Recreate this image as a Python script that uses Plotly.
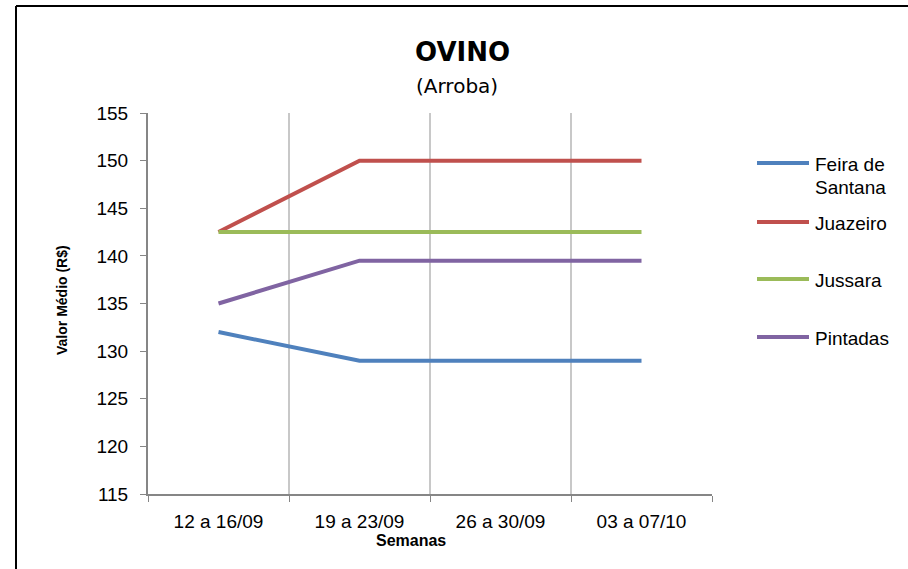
import plotly.graph_objects as go

categories = ["12 a 16/09", "19 a 23/09", "26 a 30/09", "03 a 07/10"]
feira = [132, 129, 129, 129]
juazeiro = [142.5, 150, 150, 150]
jussara = [142.5, 142.5, 142.5, 142.5]
pintadas = [135, 139.5, 139.5, 139.5]
series_names = ["Feira de<br>Santana", "Juazeiro", "Jussara", "Pintadas"]
y_ticks = [115, 120, 125, 130, 135, 140, 145, 150, 155]

colors = ["#4F81BD", "#C0504D", "#9BBB59", "#8064A2"]
W, H = 908, 569
L, R, T, B = 148, 712, 113, 494


def px(x):
    return (x - L) / (R - L)


def py(y):
    return (B - y) / (B - T)


fig = go.Figure()
for vals, name, c in zip([feira, juazeiro, jussara, pintadas], series_names, colors):
    fig.add_trace(go.Scatter(x=categories, y=vals, mode="lines", name=name,
                             line=dict(color=c, width=4), showlegend=False))

font = "Liberation Sans, Arial, sans-serif"
shapes = [
    dict(type="line", xref="paper", yref="paper", x0=px(16), x1=px(908), y0=py(6), y1=py(6),
         line=dict(color="black", width=2)),
    dict(type="line", xref="paper", yref="paper", x0=px(16), x1=px(16), y0=py(6), y1=py(569),
         line=dict(color="black", width=2)),
]
annotations = [
    dict(text="<b>OVINO</b>", x=px(463), y=py(52), xref="paper", yref="paper", showarrow=False,
         font=dict(family="DejaVu Sans", size=26, color="black"), xanchor="center", yanchor="middle"),
    dict(text="(Arroba)", x=px(457), y=py(86), xref="paper", yref="paper", showarrow=False,
         font=dict(family="DejaVu Sans", size=20, color="black"), xanchor="center", yanchor="middle"),
    dict(text="<b>Valor Médio (R$)</b>", x=px(62), y=py(300), xref="paper", yref="paper", showarrow=False,
         textangle=-90, font=dict(family=font, size=14, color="black"), xanchor="center", yanchor="middle"),
    dict(text="<b>Semanas</b>", x=px(411), y=py(540), xref="paper", yref="paper", showarrow=False,
         font=dict(family=font, size=16, color="black"), xanchor="center", yanchor="middle"),
]

legend_y = [163, 222, 279, 337]
legend_text = [["Feira de", "Santana"], ["Juazeiro"], ["Jussara"], ["Pintadas"]]
for ly, txt, c in zip(legend_y, legend_text, colors):
    shapes.append(dict(type="line", xref="paper", yref="paper", x0=px(757), x1=px(809),
                       y0=py(ly), y1=py(ly), line=dict(color=c, width=4)))
    for i, t in enumerate(txt):
        annotations.append(dict(text=t, x=px(813), y=py(ly + 1 + i * 23), xref="paper", yref="paper",
                                showarrow=False, xanchor="left", yanchor="middle",
                                font=dict(family=font, size=19, color="black")))

fig.update_layout(
    width=W, height=H,
    margin=dict(l=L, r=W - R, t=T, b=H - B),
    paper_bgcolor="white", plot_bgcolor="white",
    showlegend=False,
    shapes=shapes, annotations=annotations,
    xaxis=dict(type="category", range=[-0.5, 3.5], tickson="boundaries", ticks="outside", ticklen=6,
               tickcolor="#868686", tickwidth=1, showline=True, linecolor="#868686", linewidth=2,
               showgrid=True, gridcolor="#C8C8C8", gridwidth=1.5, ticklabelstandoff=9,
               tickfont=dict(family=font, size=19, color="black")),
    yaxis=dict(range=[115, 155], tickvals=y_ticks, ticks="outside", ticklen=6, tickcolor="#868686",
               tickwidth=1, showline=True, linecolor="#868686", linewidth=2, showgrid=False,
               zeroline=False, ticklabelstandoff=8,
               tickfont=dict(family=font, size=19, color="black")),
)

fig.write_html("out.html", config={"displayModeBar": False},
               post_script="document.body.style.margin='0px';")
